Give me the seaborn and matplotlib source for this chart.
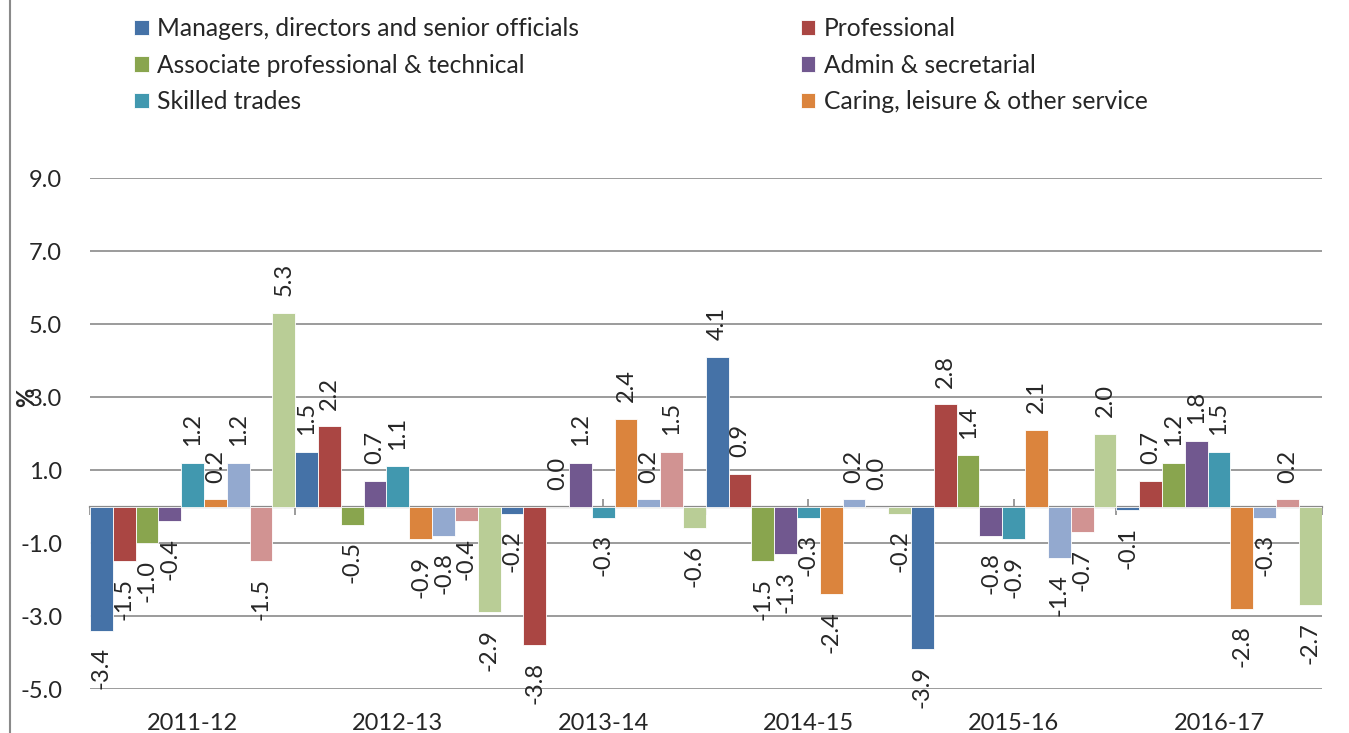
import pandas as pd
import seaborn as sns
from matplotlib import pyplot as plt
from matplotlib.lines import Line2D

years = ["2011-12", "2012-13", "2013-14", "2014-15", "2015-16", "2016-17"]
groups = [
    "Managers, directors and senior officials",
    "Professional",
    "Associate professional & technical",
    "Admin & secretarial",
    "Skilled trades",
    "Caring, leisure & other service",
    "Sales & customer service",
    "Process, plant & machine operatives",
    "Elementary occupations",
]
colours = ["#4572A7", "#AA4643", "#89A54E", "#71588F", "#4198AF",
           "#DB843D", "#93A9CF", "#D19392", "#B9CD96"]

# one list per year, in the order of `groups`
change_2011 = [-3.4, -1.5, -1.0, -0.4, 1.2, 0.2, 1.2, -1.5, 5.3]
change_2012 = [1.5, 2.2, -0.5, 0.7, 1.1, -0.9, -0.8, -0.4, -2.9]
change_2013 = [-0.2, -3.8, 0.0, 1.2, -0.3, 2.4, 0.2, 1.5, -0.6]
change_2014 = [4.1, 0.9, -1.5, -1.3, -0.3, -2.4, 0.2, 0.0, -0.2]
change_2015 = [-3.9, 2.8, 1.4, -0.8, -0.9, 2.1, -1.4, -0.7, 2.0]
change_2016 = [-0.1, 0.7, 1.2, 1.8, 1.5, -2.8, -0.3, 0.2, -2.7]

rows = []
for year, values in zip(years, [change_2011, change_2012, change_2013,
                                change_2014, change_2015, change_2016]):
    for group, value in zip(groups, values):
        rows.append({"Year": year, "Group": group, "Change": value})
df = pd.DataFrame(rows)

sns.set_style("white")
plt.rcParams["font.family"] = ["Lato", "DejaVu Sans"]
grey = "#8a8a8a"
fs = 17

fig = plt.figure(figsize=(13.49, 7.33), dpi=100)
ax = fig.add_axes([0.0667, 0.060, 0.913, 0.697])

sns.barplot(data=df, x="Year", y="Change", hue="Group", order=years,
            hue_order=groups, palette=colours, width=1.0, errorbar=None,
            edgecolor="white", linewidth=0.6, saturation=1, ax=ax)

ax.set_ylim(-5, 9)
ax.set_yticks([-5, -3, -1, 1, 3, 5, 7, 9])
ax.set_yticklabels([f"{t:.1f}" for t in ax.get_yticks()], fontsize=fs)
ax.set_xlim(-0.5, len(years) - 0.5)
ax.tick_params(axis="x", length=0, pad=17, labelsize=fs)
ax.tick_params(axis="y", length=0, pad=20)
ax.set_xlabel("")
ax.set_ylabel("%", fontsize=fs, fontweight="bold")
ax.yaxis.set_label_coords(-0.042, 0.57)
ax.grid(True, axis="y", color=grey, linewidth=1.2)
ax.set_axisbelow(True)
for side in ["top", "right", "bottom", "left"]:
    ax.spines[side].set_visible(False)

# value labels, rotated, outside the end of each bar
for container in ax.containers:
    for bar in container:
        height = bar.get_height()
        up = height >= 0
        ax.annotate(f"{height:.1f}", (bar.get_x() + bar.get_width() / 2, bar.get_y() + height),
                    xytext=(0, 12 if up else -12), textcoords="offset points",
                    rotation=90, ha="center", va="bottom" if up else "top",
                    fontsize=fs)

# category axis crossing at zero
zero_axis = ax.secondary_xaxis(0, transform=ax.transData)
zero_axis.set_xticks([i - 0.5 for i in range(len(years) + 1)])
zero_axis.set_xticklabels([])
zero_axis.set_xticks(range(len(years)), minor=True)
zero_axis.tick_params(which="major", direction="out", length=6, width=1.2, color=grey)
zero_axis.tick_params(which="minor", direction="in", length=6, width=1.2, color=grey)
for spine in zero_axis.spines.values():
    spine.set_color(grey)
    spine.set_linewidth(1.6)

handles, labels = ax.get_legend_handles_labels()
ax.get_legend().remove()
order = [0, 2, 4, 1, 3, 5]
fig.legend([handles[i] for i in order], [labels[i] for i in order],
           loc="upper left", bbox_to_anchor=(0.083, 1.007), ncol=2,
           frameon=False, fontsize=17.7, handlelength=0.6, handleheight=0.6,
           handletextpad=0.35, columnspacing=9.0, labelspacing=0.55)

fig.add_artist(Line2D([0.0075, 0.0075], [0, 1], color=grey, linewidth=1.5))

fig.savefig("out.png", dpi=100)
